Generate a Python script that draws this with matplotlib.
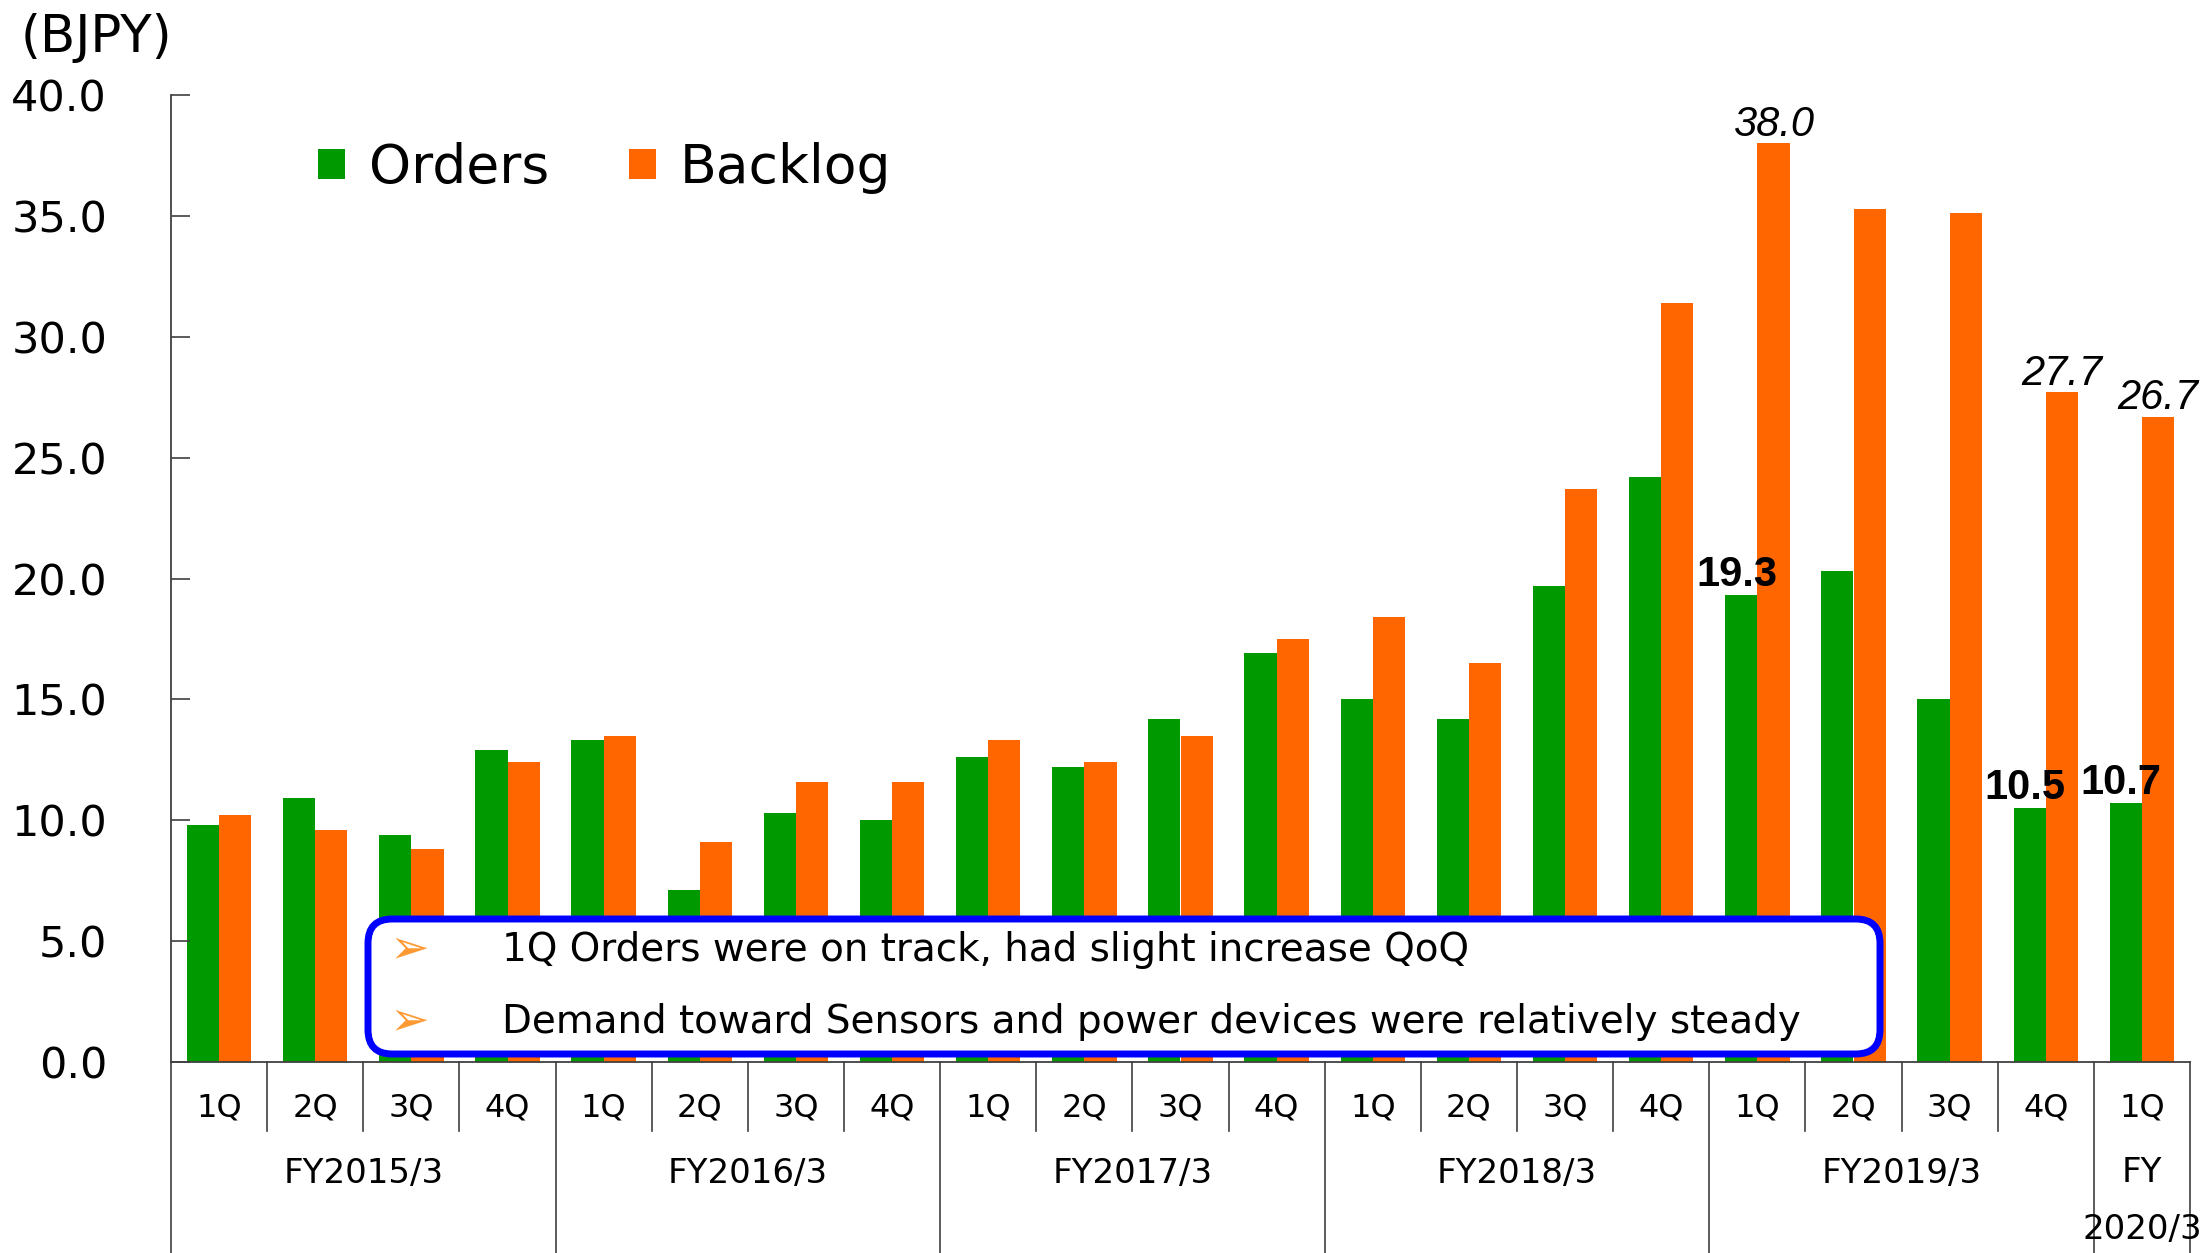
import matplotlib
matplotlib.use("Agg")
import matplotlib.pyplot as plt
from matplotlib.patches import FancyBboxPatch
import numpy as np

quarters = ["1Q", "2Q", "3Q", "4Q"] * 5 + ["1Q"]
years = ["FY2015/3", "FY2016/3", "FY2017/3", "FY2018/3", "FY2019/3"]
orders = [9.8, 10.9, 9.4, 12.9, 13.3, 7.1, 10.3, 10.0, 12.6, 12.2, 14.2, 16.9,
          15.0, 14.2, 19.7, 24.2, 19.3, 20.3, 15.0, 10.5, 10.7]
backlog = [10.2, 9.6, 8.8, 12.4, 13.5, 9.1, 11.6, 11.6, 13.3, 12.4, 13.5, 17.5,
           18.4, 16.5, 23.7, 31.4, 38.0, 35.3, 35.1, 27.7, 26.7]
bold_labels = [16, 19, 20]      # orders values shown in bold
italic_labels = [16, 19, 20]    # backlog values shown in italic
notes = ["1Q Orders were on track, had slight increase QoQ",
         "Demand toward Sensors and power devices were relatively steady"]

GREEN = "#009900"
ORANGE = "#FF6600"
LINE = "#404040"

W, H = 2201, 1253
fig = plt.figure(figsize=(W / 100, H / 100), dpi=100)
ax = fig.add_axes([171 / W, 1 - 1062 / H, (2190 - 171) / W, (1062 - 95) / H])

x = np.arange(len(orders))
bw = 0.335
b1 = ax.bar(x - bw / 2, orders, bw, color=GREEN, label="Orders")
b2 = ax.bar(x + bw / 2, backlog, bw, color=ORANGE, label="Backlog")

for i in bold_labels:
    ax.text(i - bw / 2 - 0.05, orders[i], f"{orders[i]:.1f}", ha="center", va="bottom",
            fontsize=30, fontweight="bold", family="Liberation Sans")
for i in italic_labels:
    ax.text(i + bw / 2, backlog[i] - 0.05, f"{backlog[i]:.1f}", ha="center", va="bottom",
            fontsize=30, fontstyle="italic", family="Liberation Sans")

ax.set_xlim(-0.5, len(orders) - 0.5)
ax.set_ylim(0, 40)
ax.set_yticks(np.arange(0, 40.1, 5))
ax.set_yticklabels([f"{v:.1f}" for v in np.arange(0, 40.1, 5)], fontsize=31)
ax.tick_params(axis="y", direction="in", length=14, width=1.2, color=LINE, pad=46)
ax.set_xticks([])
for s in ["top", "right"]:
    ax.spines[s].set_visible(False)
for s in ["left", "bottom"]:
    ax.spines[s].set_color(LINE)
    ax.spines[s].set_linewidth(1.3)

# category axis drawn as a table below the plot
tr = ax.get_xaxis_transform()
def fy(px):
    return -(px - 1062) / (1062 - 95)

for i, q in enumerate(quarters):
    ax.text(i, fy(1108), q, transform=tr, ha="center", va="center", fontsize=23)
for k in range(len(quarters) + 1):
    xb = k - 0.5
    full = (k % 4 == 0) or k == len(quarters)
    ax.plot([xb, xb], [0, fy(1253 if full else 1131)], transform=tr,
            color=LINE, lw=1.2, clip_on=False)
for j, yr in enumerate(years):
    ax.text(4 * j + 1.5, fy(1173), yr, transform=tr, ha="center", va="center", fontsize=24.5)
ax.text(20, fy(1173), "FY", transform=tr, ha="center", va="center", fontsize=24.5)
ax.text(20, fy(1230), "2020/3", transform=tr, ha="center", va="center", fontsize=24.5)

fig.text(96 / W, 1 - 38 / H, "(BJPY)", ha="center", va="center", fontsize=37)

ax.legend(handles=[b1, b2], loc="center left", bbox_to_anchor=(318 / W, 1 - 168 / H),
          bbox_transform=fig.transFigure, ncol=2, frameon=False, fontsize=38.5,
          handlelength=0.5, handleheight=0.5, handletextpad=0.45, columnspacing=1.5,
          borderpad=0, borderaxespad=0)

# note box
box = FancyBboxPatch((368 / W, 1 - 1054 / H), (1880 - 368) / W, (1054 - 919) / H,
                     boxstyle="round,pad=0,rounding_size=0.011", mutation_aspect=W / H,
                     transform=fig.transFigure, facecolor="white", edgecolor="#0000FF",
                     lw=5, zorder=5)
fig.patches.append(box)
for note, py in zip(notes, [950, 1022]):
    fig.text(410 / W, 1 - py / H, "\u27a2", ha="center", va="center", fontsize=34,
             color="#FF9933", zorder=6)
    fig.text(502 / W, 1 - py / H, note, ha="left", va="center", fontsize=28, zorder=6)

fig.savefig("out.png", dpi=100)
